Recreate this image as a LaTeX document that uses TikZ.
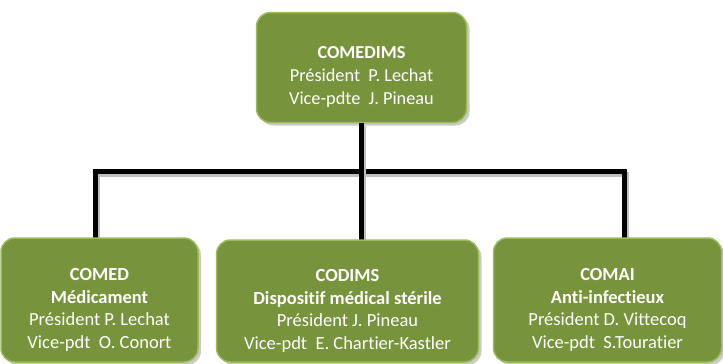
\documentclass[tikz,border=0pt]{standalone}
\usepackage{fontspec}
\setmainfont{Carlito}[Ligatures=NoCommon]
\usetikzlibrary{shadows,calc}
\definecolor{boxfill}{HTML}{77933C}
\definecolor{boxedge}{HTML}{9BBB59}
\tikzset{
  orgbox/.style={rounded corners=14pt, fill=boxfill, draw=boxedge, line width=1.5pt,
    drop shadow={shadow xshift=3pt, shadow yshift=-3pt, opacity=0.35, fill=black!60}},
  boxtext/.style={text=white, align=center, font=\fontsize{18.5}{22.4}\selectfont},
  link/.style={line width=5pt, black, line join=miter,
    preaction={draw=black!25, line width=5pt, transform canvas={xshift=2pt,yshift=-3pt}}}
}
\begin{document}
\begin{tikzpicture}[x=1pt,y=-1pt]
\useasboundingbox (0,0) rectangle (723,364);
% boxes
\node[orgbox, minimum width=210pt, minimum height=110pt,
  label={[boxtext, yshift=-9pt, font=\fontsize{18.3}{23}\selectfont]center:{\textbf{COMEDIMS}\\Président~~P. Lechat\\Vice-pdte~~J. Pineau}}]
  (top) at (361.5,67.5) {};
\coordinate (jl) at (95.5,171);
\coordinate (jr) at (624.5,171);
\coordinate (jc) at (361.5,171);
\draw[link] (jl |- 250,250) -- (jl) -- (jr) -- (jr |- 250,250);
\draw[link] (top.south) -- (jc |- 250,250);
\node[orgbox, minimum width=197pt, minimum height=124pt,
  label={[boxtext, yshift=-10pt]center:{\textbf{COMED}\\\textbf{Médicament}\\Président P. Lechat\\Vice-pdt~~O. Conort}}]
  (comed) at (99.5,300) {};
\node[orgbox, minimum width=262pt, minimum height=122pt,
  label={[boxtext, yshift=-10pt]center:{\textbf{CODIMS}\\\textbf{Dispositif médical stérile}\\Président J. Pineau\\Vice-pdt~~E. Chartier-Kastler}}]
  (codims) at (347.5,301) {};
\node[orgbox, minimum width=228pt, minimum height=124pt,
  label={[boxtext, yshift=-10pt]center:{\textbf{COMAI}\\\textbf{Anti-infectieux}\\Président D. Vittecoq\\Vice-pdt~~S.Touratier}}]
  (comai) at (607.5,300) {};
\end{tikzpicture}
\end{document}
